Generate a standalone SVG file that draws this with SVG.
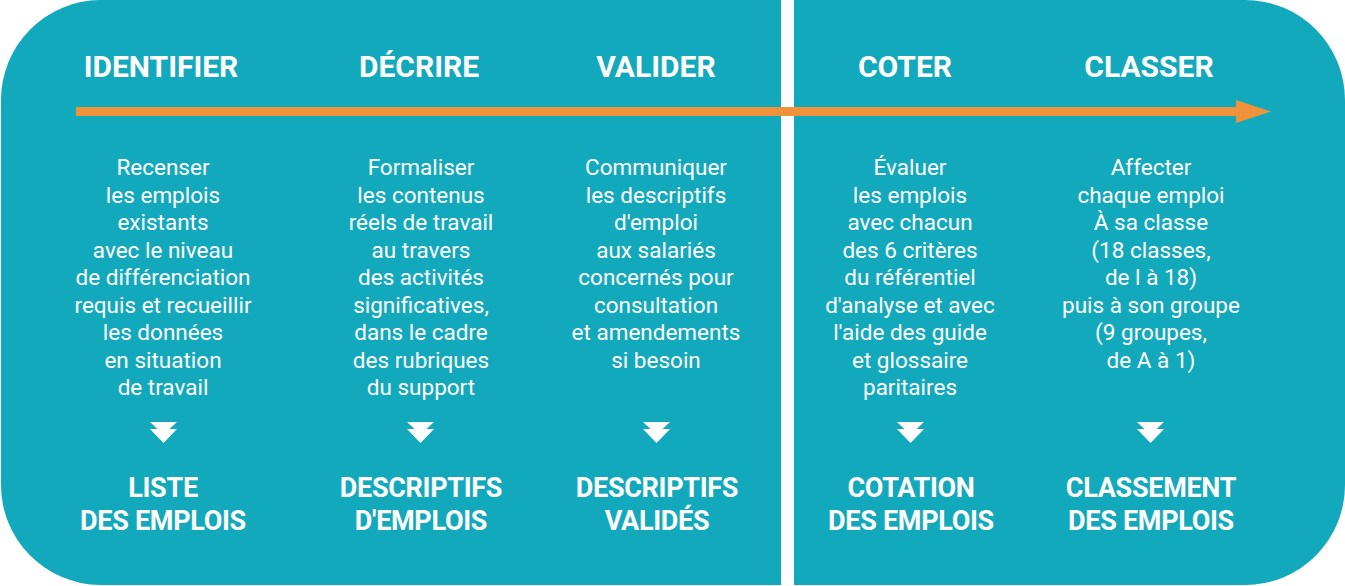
<svg xmlns="http://www.w3.org/2000/svg" width="1345" height="586" viewBox="0 0 1345 586">
  <style>
    .panel { fill: #13A9BC; }
    .title { font-family: Roboto, "Liberation Sans", sans-serif; font-weight: bold; font-size: 30px; fill: #ffffff; text-anchor: middle; }
    .result { font-family: Roboto, "Liberation Sans", sans-serif; font-weight: bold; font-size: 27px; letter-spacing: -0.3px; fill: #ffffff; text-anchor: middle; }
    .body { font-family: Roboto, "Liberation Sans", sans-serif; font-size: 22.5px; fill: #ffffff; text-anchor: middle; }
    .chev { fill: #ffffff; }
  </style>
  <defs>
    <polygon id="chevron" points="-13.5,0 13.5,0 6,7 13.5,7 0,21 -13.5,7 -6,7"/>
  </defs>
  <rect width="1345" height="586" fill="#ffffff"/>
  <g id="panels">
    <path class="panel" d="M100,0 H781 V585 H100 A100,100 0 0 1 1,485 V100 A100,100 0 0 1 100,0 Z"/>
    <path class="panel" d="M794,0 H1245 A100,100 0 0 1 1345,100 V485 A100,100 0 0 1 1245,585 H794 Z"/>
  </g>
  <g id="connectors">
    <rect x="76" y="107" width="1161" height="9" fill="#F0923A"/>
    <polygon points="1236,100 1271,111.5 1236,123" fill="#F0923A"/>
  </g>
  <g id="step-identifier">
    <text class="title" x="161" y="77">IDENTIFIER</text>
    <text class="body" x="163" y="175">Recenser</text>
    <text class="body" x="163" y="202.5">les emplois</text>
    <text class="body" x="163" y="230">existants</text>
    <text class="body" x="163" y="257.5">avec le niveau</text>
    <text class="body" x="163" y="285">de différenciation</text>
    <text class="body" x="163" y="312.5">requis et recueillir</text>
    <text class="body" x="163" y="340">les données</text>
    <text class="body" x="163" y="367.5">en situation</text>
    <text class="body" x="163" y="395">de travail</text>
    <use href="#chevron" class="chev" x="163.5" y="422"/>
    <text class="result" x="163" y="497">LISTE</text>
    <text class="result" x="163" y="530">DES EMPLOIS</text>
  </g>
  <g id="step-decrire">
    <text class="title" x="419" y="77">DÉCRIRE</text>
    <text class="body" x="421" y="175">Formaliser</text>
    <text class="body" x="421" y="202.5">les contenus</text>
    <text class="body" x="421" y="230">réels de travail</text>
    <text class="body" x="421" y="257.5">au travers</text>
    <text class="body" x="421" y="285">des activités</text>
    <text class="body" x="421" y="312.5">significatives,</text>
    <text class="body" x="421" y="340">dans le cadre</text>
    <text class="body" x="421" y="367.5">des rubriques</text>
    <text class="body" x="421" y="395">du support</text>
    <use href="#chevron" class="chev" x="420.5" y="422"/>
    <text class="result" x="421" y="497">DESCRIPTIFS</text>
    <text class="result" x="421" y="530">D'EMPLOIS</text>
  </g>
  <g id="step-valider">
    <text class="title" x="656" y="77">VALIDER</text>
    <text class="body" x="656" y="175">Communiquer</text>
    <text class="body" x="656" y="202.5">les descriptifs</text>
    <text class="body" x="656" y="230">d'emploi</text>
    <text class="body" x="656" y="257.5">aux salariés</text>
    <text class="body" x="656" y="285">concernés pour</text>
    <text class="body" x="656" y="312.5">consultation</text>
    <text class="body" x="656" y="340">et amendements</text>
    <text class="body" x="656" y="367.5">si besoin</text>
    <use href="#chevron" class="chev" x="656.5" y="422"/>
    <text class="result" x="657" y="497">DESCRIPTIFS</text>
    <text class="result" x="657" y="530">VALIDÉS</text>
  </g>
  <g id="step-coter">
    <text class="title" x="905" y="77">COTER</text>
    <text class="body" x="910" y="175">Évaluer</text>
    <text class="body" x="910" y="202.5">les emplois</text>
    <text class="body" x="910" y="230">avec chacun</text>
    <text class="body" x="910" y="257.5">des 6 critères</text>
    <text class="body" x="910" y="285">du référentiel</text>
    <text class="body" x="910" y="312.5">d'analyse et avec</text>
    <text class="body" x="910" y="340">l'aide des guide</text>
    <text class="body" x="910" y="367.5">et glossaire</text>
    <text class="body" x="910" y="395">paritaires</text>
    <use href="#chevron" class="chev" x="910.5" y="422"/>
    <text class="result" x="911" y="497">COTATION</text>
    <text class="result" x="911" y="530">DES EMPLOIS</text>
  </g>
  <g id="step-classer">
    <text class="title" x="1149" y="77">CLASSER</text>
    <text class="body" x="1151" y="175">Affecter</text>
    <text class="body" x="1151" y="202.5">chaque emploi</text>
    <text class="body" x="1151" y="230">À sa classe</text>
    <text class="body" x="1151" y="257.5">(18 classes,</text>
    <text class="body" x="1151" y="285">de l à 18)</text>
    <text class="body" x="1151" y="312.5">puis à son groupe</text>
    <text class="body" x="1151" y="340">(9 groupes,</text>
    <text class="body" x="1151" y="367.5">de A à 1)</text>
    <use href="#chevron" class="chev" x="1150.5" y="422"/>
    <text class="result" x="1151" y="497">CLASSEMENT</text>
    <text class="result" x="1151" y="530">DES EMPLOIS</text>
  </g>
</svg>
